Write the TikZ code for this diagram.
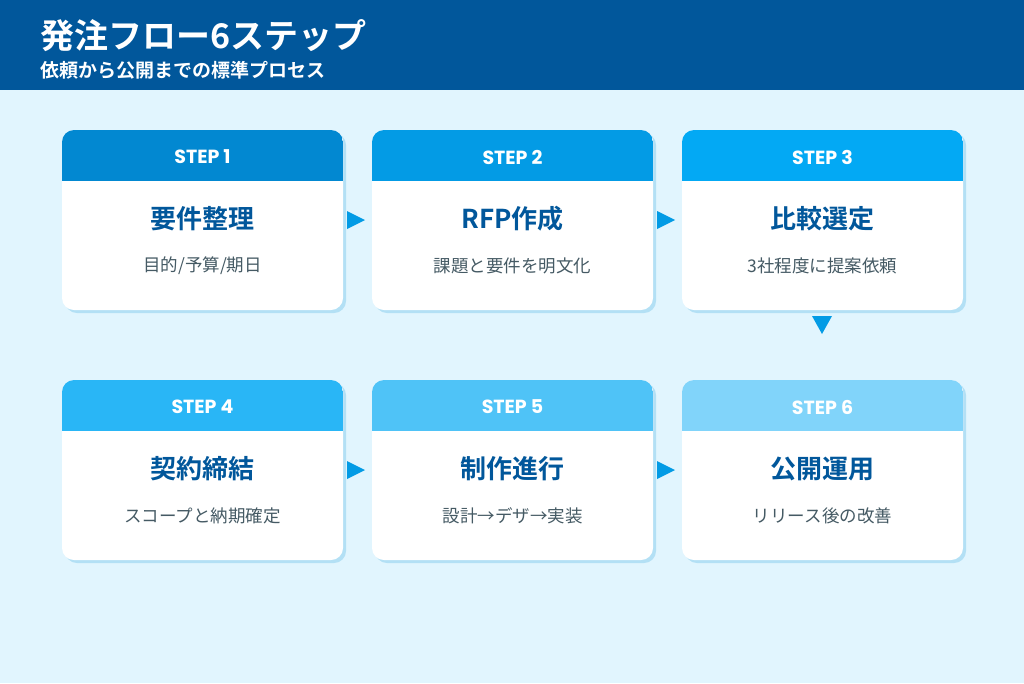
\documentclass[tikz,border=0pt]{standalone}
\usepackage{fontspec}
\newfontfamily\jp{Noto Sans CJK JP}
\newfontfamily\jpb{Noto Sans CJK JP Bold}
\newfontfamily\pop{Poppins}
\definecolor{bg}{HTML}{E1F5FE}
\definecolor{bar}{HTML}{01579B}
\definecolor{shd}{HTML}{B3E0F5}
\definecolor{tt}{HTML}{01579B}
\definecolor{st}{HTML}{455A64}
\definecolor{h1}{HTML}{0288D1}
\definecolor{h2}{HTML}{039BE5}
\definecolor{h3}{HTML}{03A9F4}
\definecolor{h4}{HTML}{29B6F6}
\definecolor{h5}{HTML}{4FC3F7}
\definecolor{h6}{HTML}{81D4FA}
\begin{document}
\begin{tikzpicture}[x=1pt,y=-1pt,
  steplbl/.style={text=white,font=\pop\bfseries\fontsize{19}{19}\selectfont},
  head/.style={text=tt,font=\jpb\fontsize{26}{26}\selectfont},
  sub/.style={text=st,font=\jp\fontsize{17.5}{18}\selectfont}]
\useasboundingbox (0,0) rectangle (1024,683);
\fill[bg] (0,0) rectangle (1024,683);
\fill[bar] (0,0) rectangle (1024,90);
\node[anchor=west,inner sep=0,text=white,font=\jpb\fontsize{34}{34}\selectfont] (title) at (40,36) {発注フロー6ステップ};
\node[anchor=west,inner sep=0,text=white,font=\jpb\fontsize{19}{19}\selectfont] (subtitle) at (40,70) {依頼から公開までの標準プロセス};
\newcommand\card[7]{%
  \fill[shd,rounded corners=12] (#1+3,#2+3) rectangle ++(281,180);
  \fill[white,rounded corners=12] (#1,#2) rectangle ++(281,180);
  \begin{scope}
  \clip[rounded corners=12] (#1,#2) rectangle ++(281,180);
  \fill[#4] (#1,#2) rectangle ++(281,51);
  \end{scope}
  \node[steplbl] (#3s) at (#1+140.5,#2+27) {STEP #5};
  \node[head] (#3h) at (#1+140.5,#2+89) {#6};
  \node[sub] (#3b) at (#1+140.5,#2+136) {#7};
  \coordinate (#3) at (#1,#2);}
\card{62}{130}{c1}{h1}{1}{要件整理}{目的/予算/期日}
\card{372}{130}{c2}{h2}{2}{RFP作成}{課題と要件を明文化}
\card{682}{130}{c3}{h3}{3}{比較選定}{3社程度に提案依頼}
\card{62}{380}{c4}{h4}{4}{契約締結}{スコープと納期確定}
\card{372}{380}{c5}{h5}{5}{制作進行}{設計→デザ→実装}
\card{682}{380}{c6}{h6}{6}{公開運用}{リリース後の改善}
\tikzset{tri/.style={fill=h2}}
\foreach \x/\y in {347/220,657/220,347/470,657/470}
  \fill[tri] (\x,\y-9) -- (\x+18,\y) -- (\x,\y+9) -- cycle;
\fill[tri] (812,316) -- (832,316) -- (822,334) -- cycle;
\end{tikzpicture}
\end{document}
